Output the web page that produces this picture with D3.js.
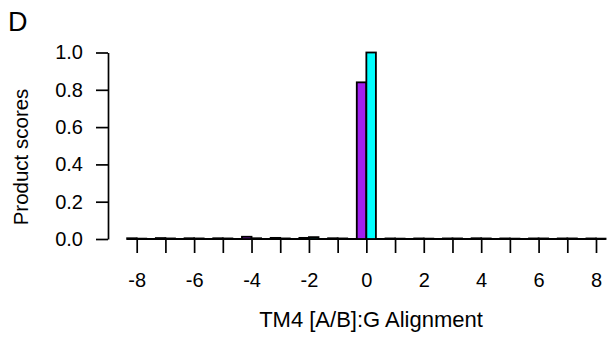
<!DOCTYPE html>
<html>
<head>
<meta charset="utf-8">
<script src="https://cdn.jsdelivr.net/npm/d3@7/dist/d3.min.js"></script>
<style>
  html, body { margin: 0; padding: 0; background: #fff; }
  svg { display: block; }
  text { font-family: "Liberation Sans", Arial, Helvetica, sans-serif; }
</style>
</head>
<body>
<svg id="chart" width="607" height="342"></svg>
<script>
const positions = [-8,-7,-6,-5,-4,-3,-2,-1,0,1,2,3,4,5,6,7,8];
const seriesA = [0.004,0.005,0.004,0.004,0.012,0.006,0.006,0.004,0.84,0.003,0.003,0.003,0.004,0.003,0.003,0.003,0.003];
const seriesB = [0.002,0.003,0.003,0.003,0.004,0.003,0.010,0.003,1.00,0.002,0.002,0.003,0.003,0.002,0.003,0.003,0.002];
const yTicks = [0, 0.2, 0.4, 0.6, 0.8, 1.0];
const xLabelTicks = [-8,-6,-4,-2,0,2,4,6,8];
const colors = ["#A020F0", "#00FFFF"];

const svg = d3.select("#chart");
const x = d3.scaleLinear().domain([-8, 8]).range([136.7, 596]);
const y = d3.scaleLinear().domain([0, 1]).range([239, 52.5]);
const step = x(1) - x(0);
const bw = step / 3;

// baseline
svg.append("line")
  .attr("x1", x(-8) - bw).attr("x2", x(8) + bw)
  .attr("y1", y(0)).attr("y2", y(0))
  .attr("stroke", "#000").attr("stroke-width", 2.2);

const data = positions.map((p, i) => ({p, a: seriesA[i], b: seriesB[i]}));
const g = svg.append("g");
g.selectAll("rect.a").data(data).join("rect").attr("class", "a")
  .attr("x", d => x(d.p) - bw).attr("width", bw)
  .attr("y", d => y(d.a)).attr("height", d => y(0) - y(d.a))
  .attr("fill", colors[0]).attr("stroke", "#000").attr("stroke-width", 1.8);
g.selectAll("rect.b").data(data).join("rect").attr("class", "b")
  .attr("x", d => x(d.p)).attr("width", bw)
  .attr("y", d => y(d.b)).attr("height", d => y(0) - y(d.b))
  .attr("fill", colors[1]).attr("stroke", "#000").attr("stroke-width", 1.8);

// y axis
const ya = svg.append("g").attr("transform", "translate(108,0)")
  .call(d3.axisLeft(y).tickValues(yTicks).tickFormat(d3.format(".1f")).tickSize(12).tickPadding(13).tickSizeOuter(0));
ya.select(".domain").attr("stroke-width", 1.7);
ya.selectAll(".tick line").attr("stroke-width", 1.7);
ya.selectAll("text").attr("font-size", 20).attr("fill", "#000")
  .attr("font-family", "Liberation Sans, Arial, sans-serif");

// x axis
const xa = svg.append("g").attr("transform", "translate(0,240)")
  .call(d3.axisBottom(x).tickValues(positions)
    .tickFormat(d => xLabelTicks.includes(d) ? String(d) : "")
    .tickSize(13).tickPadding(20));
xa.select(".domain").remove();
xa.selectAll(".tick line").attr("stroke-width", 1.7);
xa.selectAll("text").attr("font-size", 20).attr("fill", "#000")
  .attr("font-family", "Liberation Sans, Arial, sans-serif");

// titles
svg.append("text").attr("x", 371).attr("y", 327).attr("text-anchor", "middle")
  .attr("font-size", 22).text("TM4 [A/B]:G Alignment");
svg.append("text").attr("transform", "translate(28,157) rotate(-90)")
  .attr("text-anchor", "middle").attr("font-size", 20.5).text("Product scores");
svg.append("text").attr("x", 8).attr("y", 31).attr("font-size", 27).text("D");
</script>
</body>
</html>
